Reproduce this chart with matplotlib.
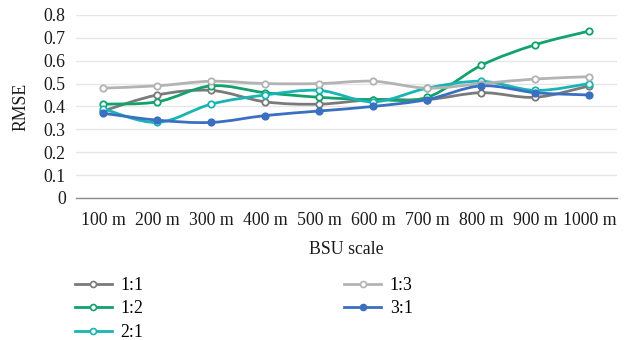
import matplotlib
matplotlib.use("Agg")
import matplotlib.pyplot as plt
from matplotlib.path import Path
from matplotlib.patches import PathPatch
from matplotlib.lines import Line2D
import numpy as np

categories = ["100 m", "200 m", "300 m", "400 m", "500 m",
              "600 m", "700 m", "800 m", "900 m", "1000 m"]

rmse_1_1 = [0.38, 0.45, 0.47, 0.42, 0.41, 0.43, 0.43, 0.46, 0.44, 0.49]
rmse_1_2 = [0.41, 0.42, 0.49, 0.46, 0.44, 0.43, 0.44, 0.58, 0.67, 0.73]
rmse_2_1 = [0.39, 0.33, 0.41, 0.45, 0.47, 0.42, 0.48, 0.51, 0.47, 0.50]
rmse_1_3 = [0.48, 0.49, 0.51, 0.50, 0.50, 0.51, 0.48, 0.50, 0.52, 0.53]
rmse_3_1 = [0.37, 0.34, 0.33, 0.36, 0.38, 0.40, 0.43, 0.49, 0.46, 0.45]

series = [
    ("1:1", rmse_1_1, "#7a7a7a", False),
    ("1:2", rmse_1_2, "#12a26c", False),
    ("2:1", rmse_2_1, "#19b4b4", False),
    ("1:3", rmse_1_3, "#b3b3b3", False),
    ("3:1", rmse_3_1, "#3a6fc2", True),
]

plt.rcParams["font.family"] = ["Liberation Serif", "DejaVu Serif"]

fig = plt.figure(figsize=(6.24, 3.40), dpi=100)
ax = fig.add_axes([0.122, 0.418, 0.866, 0.538])


def smooth_path(x, y, tension=1 / 6):
    """Cubic Bezier path through the points (Catmull-Rom style)."""
    pts = np.column_stack([x, y]).astype(float)
    n = len(pts)
    verts = [pts[0]]
    codes = [Path.MOVETO]
    for i in range(n - 1):
        p0 = pts[i - 1] if i > 0 else pts[i]
        p1 = pts[i]
        p2 = pts[i + 1]
        p3 = pts[i + 2] if i + 2 < n else pts[i + 1]
        c1 = p1 + (p2 - p0) * tension
        c2 = p2 - (p3 - p1) * tension
        verts += [c1, c2, p2]
        codes += [Path.CURVE4] * 3
    return Path(verts, codes)


x = np.arange(len(categories))
handles = []
for name, vals, color, filled in series:
    patch = PathPatch(smooth_path(x, vals), facecolor="none", edgecolor=color,
                      lw=2.0, zorder=3, capstyle="round", joinstyle="round")
    ax.add_patch(patch)
    ax.plot(x, vals, ls="none", marker="o", ms=4.6, mew=1.3,
            mec=color, mfc=color if filled else "white", zorder=4)
    handles.append(Line2D([], [], color=color, lw=2.0, marker="o", ms=4.3,
                          mew=1.2, mec=color,
                          mfc=color if filled else "white", label=name))

ax.set_xlim(-0.5, len(categories) - 0.5)
ax.set_ylim(0, 0.8)
ax.set_yticks(np.arange(0, 0.81, 0.1))
ax.set_yticklabels(["0", "0.1", "0.2", "0.3", "0.4", "0.5", "0.6", "0.7", "0.8"])
ax.set_xticks(x)
ax.set_xticklabels(categories)

ax.grid(axis="y", color="#e6e6e6", lw=1.0)
ax.set_axisbelow(True)
for s in ("top", "right", "left"):
    ax.spines[s].set_visible(False)
ax.spines["bottom"].set_color("#8c8c8c")
ax.spines["bottom"].set_linewidth(1.0)
ax.tick_params(axis="both", length=0, labelsize=12.8, colors="#1a1a1a", pad=7.5)
ax.tick_params(axis="x", pad=10)

ax.set_ylabel("RMSE", fontsize=12.8, color="#1a1a1a", labelpad=10.5)
ax.set_xlabel("BSU scale", fontsize=12.8, color="#1a1a1a", labelpad=8.5)

fig.legend(handles=handles, ncol=2, loc="upper left",
           bbox_to_anchor=(0.109, 0.207), frameon=False, fontsize=12.8,
           handlelength=2.05, columnspacing=11.3, labelspacing=0.38,
           handletextpad=0.5, borderaxespad=0)

fig.savefig("out.png", dpi=100, facecolor="white")
